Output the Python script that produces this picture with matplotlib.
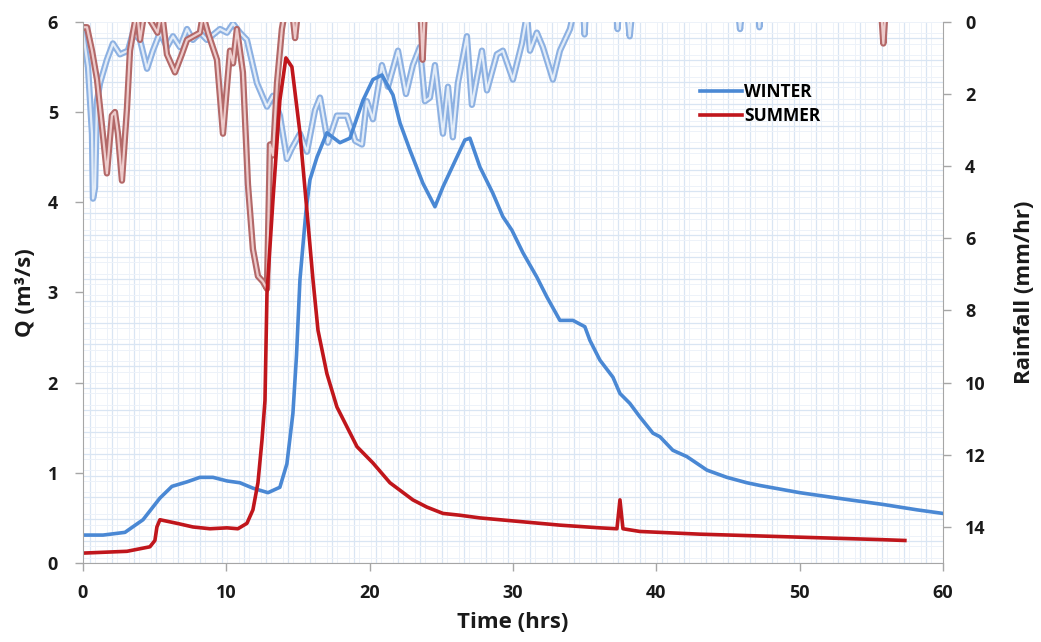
import matplotlib
matplotlib.use('Agg')
import matplotlib.pyplot as plt
import numpy as np

plt.rcParams['font.family'] = ['Open Sans', 'DejaVu Sans']
plt.rcParams['font.weight'] = 'bold'
plt.rcParams['axes.labelweight'] = 'bold'

# discharge (m3/s) vs time (hrs)
winter_t = [0, 1.40, 2.93, 4.19, 5.37, 6.21, 7.26, 8.16, 9.07, 10.05, 10.95, 11.86, 12.91,
            13.74, 14.23, 14.65, 14.9, 15.14, 15.56, 15.84, 16.33, 17.02, 17.93, 18.63,
            19.54, 20.23, 20.86, 21.63, 22.12, 22.81, 23.72, 24.56, 25.12, 26.09, 26.65,
            27.0, 27.70, 28.60, 29.30, 29.93, 30.70, 31.67, 32.37, 33.28, 34.19, 35.02,
            35.37, 36.07, 36.98, 37.47, 38.16, 38.86, 39.77, 40.26, 41.16, 42.14, 43.54,
            44.93, 46.33, 47.23, 50.02, 53.51, 55.81, 58.19, 60.0]
winter_q = [0.31, 0.31, 0.34, 0.48, 0.72, 0.85, 0.90, 0.95, 0.95, 0.91, 0.89, 0.83, 0.78,
            0.84, 1.10, 1.66, 2.3, 3.14, 3.9, 4.25, 4.5, 4.77, 4.66, 4.71,
            5.13, 5.36, 5.41, 5.19, 4.88, 4.58, 4.21, 3.95, 4.17, 4.5, 4.69,
            4.71, 4.39, 4.1, 3.84, 3.69, 3.44, 3.17, 2.95, 2.69, 2.69, 2.62,
            2.47, 2.25, 2.06, 1.88, 1.77, 1.62, 1.44, 1.40, 1.25, 1.18, 1.03,
            0.95, 0.89, 0.86, 0.78, 0.70, 0.65, 0.59, 0.55]

summer_t = [0, 3.07, 4.67, 5.02, 5.16, 5.37, 6.56, 7.67, 8.86, 10.05, 10.81, 11.44, 11.86,
            12.21, 12.49, 12.70, 12.84, 13.26, 13.74, 14.16, 14.58, 15.14, 15.63, 16.05,
            16.40, 17.02, 17.72, 18.42, 19.12, 20.23, 21.42, 23.02, 24.0, 25.12, 26.30, 27.70,
            30.49, 33.28, 36.07, 37.26, 37.47, 37.68, 38.86, 43.05, 47.23, 51.42, 55.6, 57.35]
summer_q = [0.11, 0.13, 0.18, 0.25, 0.40, 0.48, 0.44, 0.40, 0.38, 0.39, 0.38, 0.44, 0.59,
            0.89, 1.36, 1.8, 2.99, 4.03, 5.13, 5.6, 5.5, 4.77, 3.9, 3.14,
            2.58, 2.1, 1.73, 1.51, 1.29, 1.11, 0.89, 0.70, 0.62, 0.55, 0.53, 0.50,
            0.46, 0.42, 0.39, 0.38, 0.70, 0.38, 0.35, 0.32, 0.30, 0.28, 0.26, 0.25]

# rainfall (mm/hr); the smoothed series overshoot above zero in the original
winter_rt = [0, 0.35, 0.63, 0.70, 0.84, 0.98, 1.19, 1.67, 2.09, 2.58, 3.14, 3.49, 3.98, 4.47,
             4.88, 5.37, 5.86, 6.28, 6.77, 7.26, 7.67, 8.16, 8.65, 9.56, 10.05, 10.47, 10.95,
             11.44, 12.14, 12.84, 13.26, 13.74, 14.23, 14.58, 15.14, 15.63, 16.19, 16.54,
             17.09, 17.72, 18.42, 19.0, 19.47, 19.81, 20.23, 20.86, 21.28, 21.98, 22.54,
             23.02, 23.51, 23.86, 24.21, 24.56, 25.12, 25.47, 25.81, 26.16, 26.79, 27.14,
             27.84, 28.19, 28.88, 29.30, 30.00, 30.63, 30.98, 31.19, 31.67, 32.09, 32.79,
             33.28, 33.98, 34.33, 34.9, 35.0, 35.1, 37.2, 37.3, 37.4, 37.95, 38.15, 38.35,
             45.7, 45.85, 46.0, 47.1, 47.2, 47.3, 60.0]
winter_r = [0.3, 1.25, 3.1, 4.9, 4.6, 2.2, 1.7, 1.05, 0.6, 0.9, 0.8, 0.3, 0.5, 1.3,
            0.8, 0.3, 0.7, 0.4, 0.7, 0.2, 0.5, 0.3, 0.5, 0.2, 0.3, 0.05, 0.3,
            0.5, 1.7, 2.35, 2.05, 2.6, 3.8, 3.5, 3.1, 3.6, 2.45, 2.1,
            3.35, 2.6, 2.6, 3.3, 3.4, 2.2, 2.7, 1.2, 1.8, 0.8, 2.0,
            1.2, 0.7, 2.2, 2.1, 1.2, 3.1, 1.8, 3.2, 1.7, 0.4, 2.3,
            0.8, 1.9, 0.9, 0.8, 1.6, 0.6, -0.2, 0.8, 0.3, 0.7, 1.6,
            0.8, 0.2, -0.4, -0.4, 0.35, -0.4, -0.4, 0.2, -0.4, -0.4, 0.4, -0.4,
            -0.4, 0.2, -0.4, -0.4, 0.15, -0.4, -0.4]

summer_rt = [0, 0.28, 0.63, 0.98, 1.33, 1.67, 2.02, 2.23, 2.44, 2.72, 3.07, 3.28, 3.49, 3.77,
             3.98, 4.3, 5.2, 5.5, 5.86, 6.42, 6.9, 7.26, 8.16, 8.37, 8.72, 9.35, 9.77, 10.26,
             10.47, 10.74, 11.16, 11.51, 11.86, 12.21, 12.56, 12.84, 13.05, 13.26, 13.54,
             13.88, 14.1, 14.6, 14.8, 15.0, 23.55, 23.7, 23.85, 55.7, 55.85, 56.0, 57.3]
summer_r = [0.15, 0.15, 0.8, 1.6, 2.9, 4.2, 2.6, 2.5, 3.1, 4.4, 2.4, 0.8, 0.3, -0.3,
            0.5, -0.3, 0.3, -0.3, 0.9, 1.4, 0.9, 0.5, 0.3, -0.2, 0.3, 1.05, 3.1, 0.8,
            1.15, 0.2, 1.4, 4.5, 6.3, 7.05, 7.2, 7.4, 3.4, 3.7, 1.7,
            0.2, -0.3, -0.3, 0.45, -0.3, -0.3, 1.05, -0.3, -0.3, 0.6, -0.3, -0.3]

blue = '#4a88d4'
red = '#c0161c'
grey = '#a6a6a6'
ink = '#1a1a1a'

fig = plt.figure(figsize=(10.41, 6.42), dpi=100)
pos = [0.0797, 0.123, 0.826, 0.843]

# graph paper background
bg = fig.add_axes(pos, zorder=0)
bg.set_xlim(0, 60)
bg.set_ylim(0, 6)
gx = np.arange(0.5, 60, 1.55)
gy = np.arange(0, 6.01, 0.25)
bg.set_xticks(gx)
bg.set_yticks(gy)
bg.set_xticks(np.concatenate([gx + 0.35, gx + 1.2]), minor=True)
bg.set_yticks(np.concatenate([gy + 0.06, gy + 0.19]), minor=True)
bg.grid(which='major', color='#d9e5f3', lw=0.9)
bg.grid(which='minor', color='#edf2f9', lw=0.7)
bg.tick_params(which='both', length=0, labelbottom=False, labelleft=False)
for s in bg.spines.values():
    s.set_visible(False)

ax = fig.add_axes(pos, zorder=2)
ax.patch.set_visible(False)
ax2 = ax.twinx()
ax2.set_zorder(1)
ax.set_zorder(2)

# rainfall (hollow double lines)
ax2.plot(winter_rt, winter_r, color='#8db1e2', lw=4.6, solid_joinstyle='round')
ax2.plot(winter_rt, winter_r, color='#e2ecf8', lw=1.6, solid_joinstyle='round')
ax2.plot(summer_rt, summer_r, color='#b36868', lw=4.6, solid_joinstyle='round')
ax2.plot(summer_rt, summer_r, color='#edcccc', lw=1.6, solid_joinstyle='round')
ax2.set_ylim(15, 0)
ax2.set_yticks(range(0, 15, 2))

ax.plot(winter_t, winter_q, color=blue, lw=2.6, label='WINTER')
ax.plot(summer_t, summer_q, color=red, lw=2.6, label='SUMMER')
ax.set_xlim(0, 60)
ax.set_ylim(0, 6)
ax.set_xticks(range(0, 61, 10))
ax.set_yticks(range(0, 7))

for a in (ax, ax2):
    for s in a.spines.values():
        s.set_color(grey)
    a.spines['top'].set_visible(False)
    a.tick_params(colors=grey, labelcolor=ink, labelsize=13, length=6, width=1)
ax.spines['right'].set_visible(False)
ax2.spines['left'].set_visible(False)
ax2.spines['bottom'].set_visible(False)
ax.tick_params(axis='x', pad=9)
ax.tick_params(axis='y', pad=12)
ax2.tick_params(axis='y', pad=10)

ax.set_xlabel('Time (hrs)', fontsize=16, color=ink, labelpad=7)
ax.set_ylabel('Q (m³/s)', fontsize=16, color=ink, labelpad=8)
ax2.set_ylabel('Rainfall (mm/hr)', fontsize=16, color=ink, labelpad=20)

ax.legend(loc='upper left', bbox_to_anchor=(0.71, 0.9), frameon=False, fontsize=12.5,
          handlelength=2.4, handletextpad=0.1, labelspacing=0.35, borderaxespad=0)

fig.savefig('out.png', dpi=100)
